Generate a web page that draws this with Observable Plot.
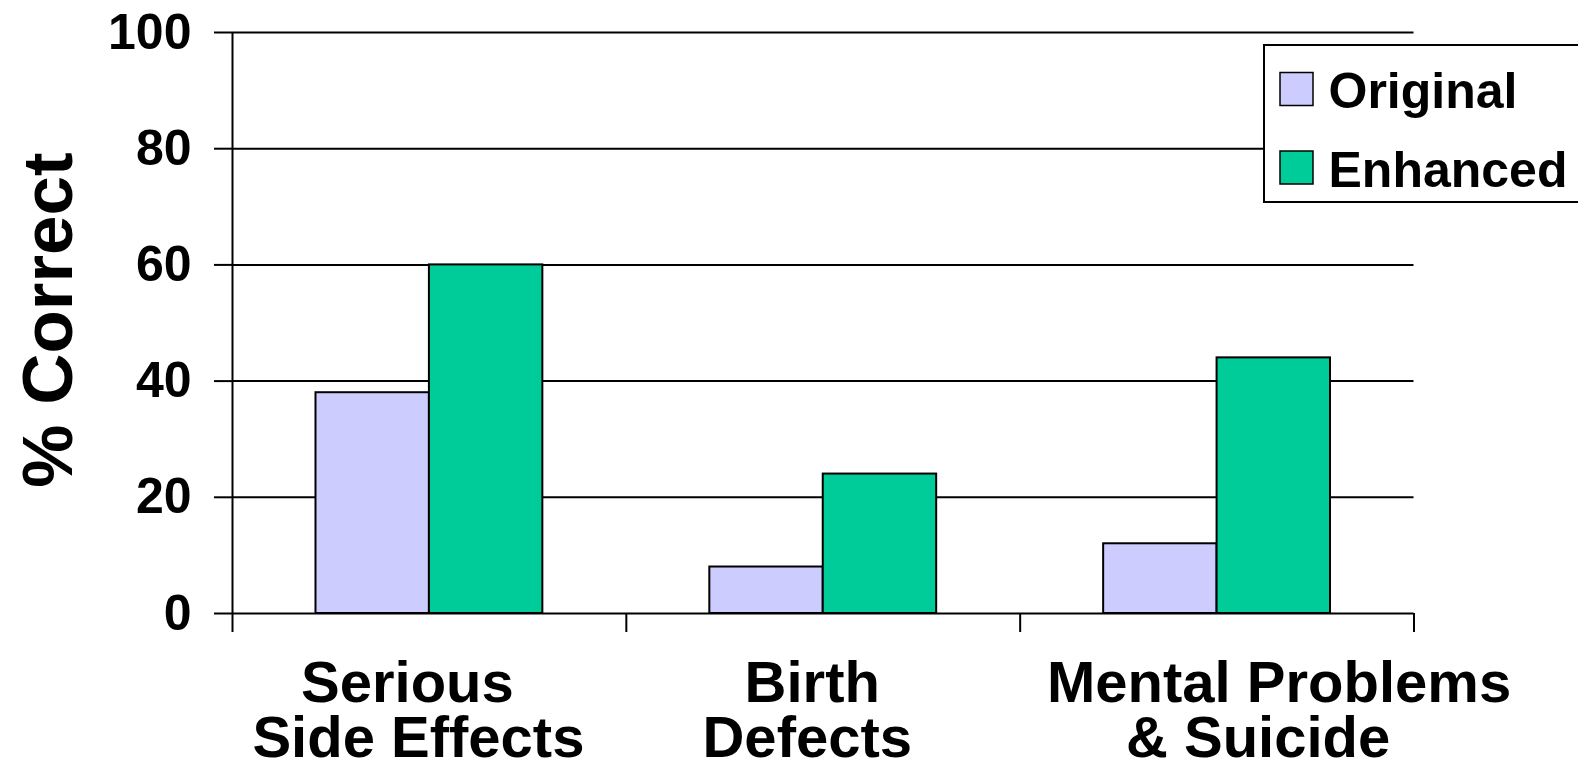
<!DOCTYPE html>
<html><head><meta charset="utf-8">
<script src="https://cdn.jsdelivr.net/npm/d3@7"></script>
<script src="https://cdn.jsdelivr.net/npm/@observablehq/plot@0.6"></script>
<style>
html,body{margin:0;padding:0;background:#fff;overflow:hidden;}
#wrap{position:relative;width:1578px;height:762px;overflow:hidden;}
</style></head><body><div id="wrap"></div>
<script>
const categories = ["Serious Side Effects", "Birth Defects", "Mental Problems & Suicide"];
const categoryLines = [["Serious", "Side Effects"], ["Birth", "Defects"], ["Mental Problems", "& Suicide"]];
const seriesNames = ["Original", "Enhanced"];
const seriesColors = ["#CCCCFF", "#00CC99"];
const originalValues = [38, 8, 12];
const enhancedValues = [60, 24, 44];
const yTicks = [0, 20, 40, 60, 80, 100];
const yLabel = "% Correct";

// layout constants
const W = 1578, H = 762, mL = 232, mR = 164.5, mT = 32, mB = 149;
const slotPx = (W - mL - mR) / categories.length;
const groupWidth = 0.576; // share of each category slot taken by its bar group
const labelShiftPx = [[-22, -11], [-11, -16], [62, 41]]; // label lines are off-centre in the original
const lineStep = 55;

const seriesValues = [originalValues, enhancedValues];
const data = [];
categories.forEach((c, i) => {
  seriesValues.forEach((vals, j) => {
    const start = i + (1 - groupWidth) / 2 + j * groupWidth / seriesNames.length;
    data.push({category: c, series: seriesNames[j], value: vals[i], x1: start, x2: start + groupWidth / seriesNames.length});
  });
});
const labelRows = [];
categoryLines.forEach((lines, i) => lines.forEach((t, k) => labelRows.push({text: t, line: k, x: i + 0.5 + labelShiftPx[i][k] / slotPx})));

const font = "'Liberation Sans', Arial, Helvetica, sans-serif";
const chart = Plot.plot({
  width: W, height: H,
  marginTop: mT, marginBottom: mB, marginLeft: mL, marginRight: mR,
  style: {fontFamily: font, fontWeight: "bold", color: "#000", background: "#fff", overflow: "visible"},
  x: {domain: [0, categories.length], axis: null},
  y: {domain: [0, 100], axis: null},
  color: {domain: seriesNames, range: seriesColors},
  marks: [
    Plot.ruleY(yTicks, {stroke: "#000", strokeWidth: 2}),
    Plot.rect(data, {x1: "x1", x2: "x2", y1: 0, y2: "value", fill: "series", stroke: "#000", strokeWidth: 2}),
    Plot.ruleX([0], {stroke: "#000", strokeWidth: 2}),
    Plot.axisY({ticks: yTicks, tickSize: 18, tickPadding: 23, fontSize: 50, fontWeight: "bold", stroke: "#000", strokeWidth: 2, label: null, tickFormat: d => String(d)}),
    Plot.axisX({ticks: d3.range(categories.length + 1), tickSize: 19, tickFormat: () => "", stroke: "#000", strokeWidth: 2, label: null}),
    ...[0, 1].map(k => Plot.text(labelRows.filter(d => d.line === k), {x: "x", text: "text", frameAnchor: "bottom", lineAnchor: "top", dy: 47 + k * lineStep, fontSize: 58, fontWeight: "bold", fill: "#000"})),
    Plot.text([yLabel], {text: d => d, frameAnchor: "left", textAnchor: "middle", lineAnchor: "middle", rotate: -90, dx: -183, dy: -3, fontSize: 71, fontWeight: "bold", fill: "#000"})
  ]
});
const wrap = document.getElementById("wrap");
wrap.appendChild(chart);

// legend overlay
const leg = d3.select(wrap).append("svg")
  .attr("width", W).attr("height", H)
  .style("position", "absolute").style("left", "0px").style("top", "0px")
  .style("font-family", font).style("font-weight", "bold");
leg.append("rect").attr("x", 1264).attr("y", 45).attr("width", 400).attr("height", 157)
  .attr("fill", "#fff").attr("stroke", "#000").attr("stroke-width", 2);
seriesNames.forEach((s, i) => {
  const cy = 89 + i * 78.5;
  leg.append("rect").attr("x", 1280).attr("y", cy - 16.5).attr("width", 33).attr("height", 33)
    .attr("fill", seriesColors[i]).attr("stroke", "#000").attr("stroke-width", 1.5);
  leg.append("text").attr("x", 1328.5).attr("y", cy + 19).attr("font-size", 50).attr("fill", "#000").text(s);
});
</script></body></html>
